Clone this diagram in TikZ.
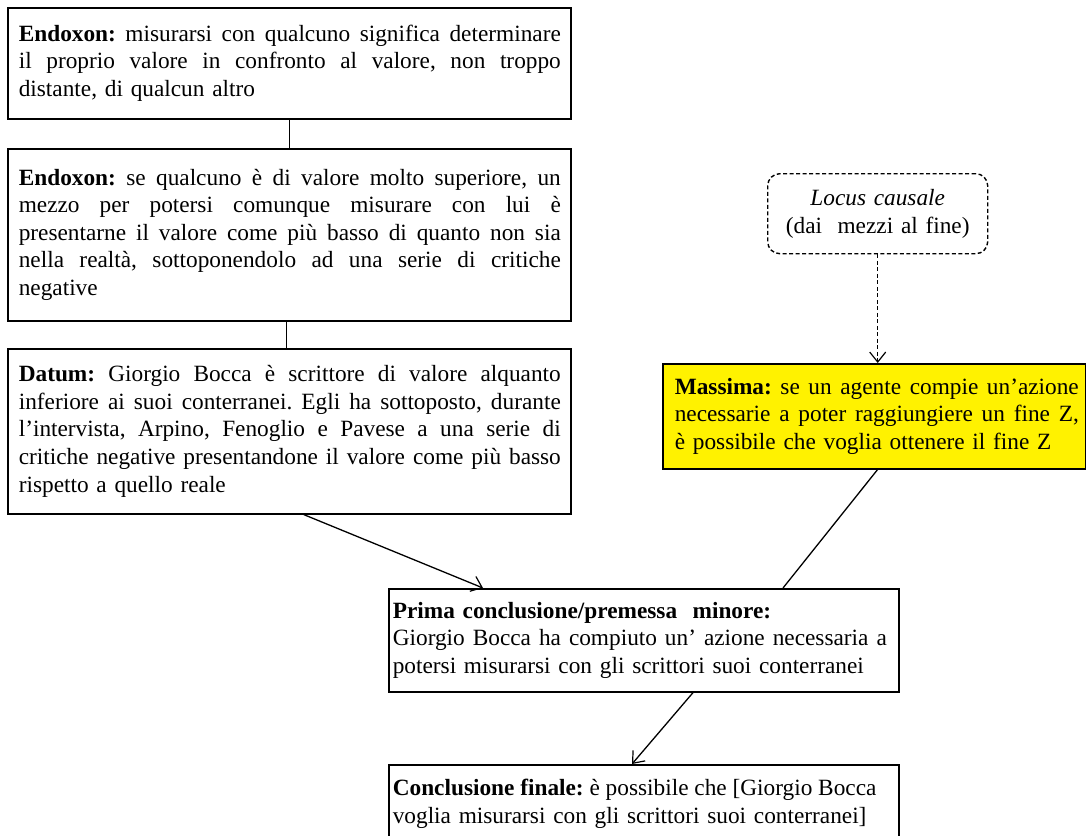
\documentclass[tikz,border=0pt]{standalone}
\usepackage{fontspec}
\setmainfont{Liberation Serif}
\usetikzlibrary{arrows.meta,calc}
\setlength{\parindent}{0pt}
\frenchspacing

% one justified line of width \jw, indented by \lp; and a last (natural) line
\newcommand\jl[1]{\hspace*{\lp}\makebox[\jw][s]{\spaceskip=\fontdimen2\font plus 1fil\relax\strut#1}\\}
\newcommand\nl[1]{\hspace*{\lp}\strut#1}

\tikzset{
  txt/.style={font=\fontsize{23.3}{27.6}\selectfont},
  box/.style={txt, draw=black, line width=1.6pt, anchor=north west,
    inner xsep=0pt, inner ysep=0pt},
  link/.style={line width=1.3pt},
  tip/.style={-{Straight Barb[length=10pt,width=16pt,line width=1.2pt]}},
  dashedbox/.style={txt, draw=black, line width=1.4pt, dash pattern=on 4pt off 2.5pt,
    rounded corners=12pt, anchor=north west, inner sep=0pt, align=center},
}

\begin{document}
\begin{tikzpicture}[x=1pt,y=-1pt]
\useasboundingbox (0,0) rectangle (1086,835);
\clip (0,0) rectangle (1086,835);

% left column
\node[box, text width=563pt, minimum height=111pt] (e1) at (7,7)
  {\def\lp{11pt}\def\jw{542pt}%
   \jl{\textbf{Endoxon:} misurarsi con qualcuno significa determinare}%
   \jl{il proprio valore in confronto al valore, non troppo}%
   \nl{distante, di qualcun altro}};

\node[box, text width=563pt, minimum height=172pt] (e2) at (7,148)
  {\def\lp{11pt}\def\jw{542pt}%
   \jl{\textbf{Endoxon:} se qualcuno è di valore molto superiore, un}%
   \jl{mezzo per potersi comunque misurare con lui è}%
   \jl{presentarne il valore come più basso di quanto non sia}%
   \jl{nella realtà, sottoponendolo ad una serie di critiche}%
   \nl{negative}};

\node[box, text width=563pt, minimum height=165pt] (datum) at (7,348)
  {\def\lp{11pt}\def\jw{542pt}%
   \jl{\textbf{Datum:} Giorgio Bocca è scrittore di valore alquanto}%
   \jl{inferiore ai suoi conterranei. Egli ha sottoposto, durante}%
   \jl{l’intervista, Arpino, Fenoglio e Pavese a una serie di}%
   \jl{critiche negative presentandone il valore come più basso}%
   \nl{rispetto a quello reale}};

% right column
\node[dashedbox, text width=220pt, minimum height=80pt] (locus) at (767,173)
  {\textit{Locus causale}\\(dai\ \ mezzi al fine)};

\node[box, fill=yellow, text width=422.5pt, minimum height=105pt] (massima) at (662,363)
  {\def\lp{12pt}\def\jw{404pt}%
   \jl{\textbf{Massima:} se un agente compie un’azione}%
   \jl{necessarie a poter raggiungiere un fine Z,}%
   \nl{è possibile che voglia ottenere il fine Z}};

\node[box, text width=510pt, minimum height=103pt] (prima) at (388,588)
  {\def\lp{4pt}\def\jw{494pt}%
   \nl{\textbf{Prima conclusione/premessa\ \ minore:}}\\
   \jl{Giorgio Bocca ha compiuto un’ azione necessaria a}%
   \nl{potersi misurarsi con gli scrittori suoi conterranei}};

\node[box, text width=510pt, minimum height=78pt] (concl) at (388,764)
  {\def\lp{4pt}\def\jw{482pt}%
   \jl{\textbf{Conclusione finale:} è possibile che [Giorgio Bocca}%
   \nl{voglia misurarsi con gli scrittori suoi conterranei]}};

% connectors
\draw[link] (e1.south) -- (e2.north);
\draw[link] ($(e2.south)+(-3,0)$) -- ($(datum.north)+(-3,0)$);
\draw[link, tip] ($(datum.south)+(14.5,0)$) -- ($(prima.north west)+(95,0)$);
\draw[link, tip, dash pattern=on 4pt off 2.5pt] (locus.south) -- (locus.south |- massima.north);
\draw[link] ($(massima.south)+(3.5,0)$) -- ($(prima.north west)+(395,0)$);
\draw[link, tip] ($(prima.south west)+(305,0)$) -- ($(concl.north west)+(244,0)$);
\end{tikzpicture}
\end{document}
